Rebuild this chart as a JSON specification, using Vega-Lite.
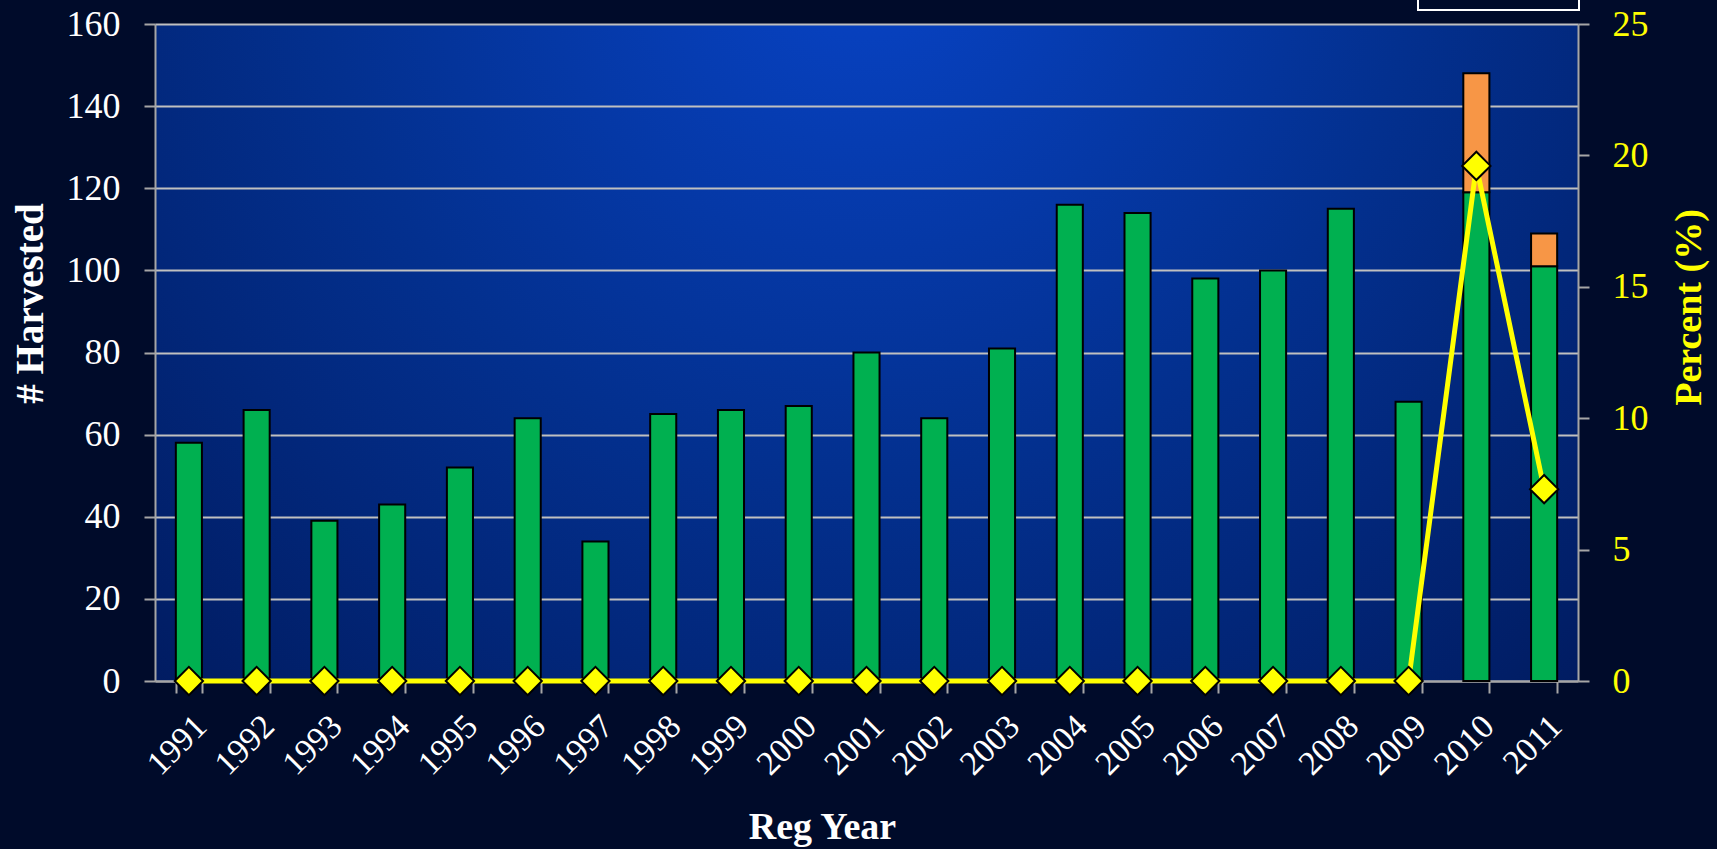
{
  "$schema": "https://vega.github.io/schema/vega-lite/v6.json",
  "width": 1423,
  "height": 657,
  "autosize": {"type": "none"},
  "padding": {"left": 155, "top": 24, "right": 139, "bottom": 168},
  "background": "#000b2a",
  "config": {
    "font": "Liberation Serif",
    "view": {
      "stroke": null,
      "fill": {
        "gradient": "radial",
        "x1": 0.5, "y1": 0.2, "r1": 0,
        "x2": 0.5, "y2": 0.2, "r2": 0.85,
        "stops": [
          {"offset": 0, "color": "#0844c8"},
          {"offset": 0.45, "color": "#03308f"},
          {"offset": 1, "color": "#001552"}
        ]
      }
    },
    "legend": {"strokeWidth": 2, "strokeColor": "#ffffff"}
  },
  "datasets": {
    "bars": [
      {"year": 1991, "type": "Negative", "count": 58},
      {"year": 1992, "type": "Negative", "count": 66},
      {"year": 1993, "type": "Negative", "count": 39},
      {"year": 1994, "type": "Negative", "count": 43},
      {"year": 1995, "type": "Negative", "count": 52},
      {"year": 1996, "type": "Negative", "count": 64},
      {"year": 1997, "type": "Negative", "count": 34},
      {"year": 1998, "type": "Negative", "count": 65},
      {"year": 1999, "type": "Negative", "count": 66},
      {"year": 2000, "type": "Negative", "count": 67},
      {"year": 2001, "type": "Negative", "count": 80},
      {"year": 2002, "type": "Negative", "count": 64},
      {"year": 2003, "type": "Negative", "count": 81},
      {"year": 2004, "type": "Negative", "count": 116},
      {"year": 2005, "type": "Negative", "count": 114},
      {"year": 2006, "type": "Negative", "count": 98},
      {"year": 2007, "type": "Negative", "count": 100},
      {"year": 2008, "type": "Negative", "count": 115},
      {"year": 2009, "type": "Negative", "count": 68},
      {"year": 2010, "type": "Negative", "count": 119},
      {"year": 2010, "type": "Positive", "count": 29},
      {"year": 2011, "type": "Negative", "count": 101},
      {"year": 2011, "type": "Positive", "count": 8}
    ],
    "pct": [
      {"year": 1991, "percent": 0},
      {"year": 1992, "percent": 0},
      {"year": 1993, "percent": 0},
      {"year": 1994, "percent": 0},
      {"year": 1995, "percent": 0},
      {"year": 1996, "percent": 0},
      {"year": 1997, "percent": 0},
      {"year": 1998, "percent": 0},
      {"year": 1999, "percent": 0},
      {"year": 2000, "percent": 0},
      {"year": 2001, "percent": 0},
      {"year": 2002, "percent": 0},
      {"year": 2003, "percent": 0},
      {"year": 2004, "percent": 0},
      {"year": 2005, "percent": 0},
      {"year": 2006, "percent": 0},
      {"year": 2007, "percent": 0},
      {"year": 2008, "percent": 0},
      {"year": 2009, "percent": 0},
      {"year": 2010, "percent": 19.6},
      {"year": 2011, "percent": 7.3}
    ]
  },
  "layer": [
    {
      "data": {"name": "bars"},
      "mark": {"type": "bar", "stroke": "#000000", "strokeWidth": 2},
      "encoding": {
        "x": {
          "field": "year",
          "type": "ordinal",
          "scale": {"paddingInner": 0.615, "paddingOuter": 0.3075},
          "axis": {
            "title": "Reg Year",
            "titleFontSize": 38,
            "titleFontWeight": "bold",
            "titleColor": "#ffffff",
            "titleX": 667,
            "titleY": 157,
            "titleBaseline": "alphabetic",
            "labelAngle": -45,
            "labelFontSize": 34,
            "labelColor": "#ffffff",
            "labelPadding": 16,
            "tickBand": "extent",
            "tickColor": "#a6a6a6",
            "tickWidth": 2,
            "tickSize": 12,
            "domainColor": "#a6a6a6",
            "domainWidth": 2,
            "grid": false
          }
        },
        "y": {
          "field": "count",
          "type": "quantitative",
          "stack": "zero",
          "scale": {"domain": [0, 160]},
          "axis": {
            "title": "# Harvested",
            "titleFontSize": 39,
            "titleFontWeight": "bold",
            "titleColor": "#ffffff",
            "titleAngle": 270,
            "titleX": -113,
            "titleY": 279,
            "titleAlign": "center",
            "titleBaseline": "alphabetic",
            "values": [0, 20, 40, 60, 80, 100, 120, 140, 160],
            "labelFontSize": 36,
            "labelColor": "#ffffff",
            "labelPadding": 24,
            "tickColor": "#a6a6a6",
            "tickWidth": 2,
            "tickSize": 11,
            "domainColor": "#a6a6a6",
            "domainWidth": 2,
            "gridColor": "#c0c0c0",
            "gridWidth": 2
          }
        },
        "color": {
          "field": "type",
          "type": "nominal",
          "scale": {"domain": ["Negative", "Positive"], "range": ["#00b050", "#f79646"]},
          "legend": {
            "orient": "none",
            "legendX": 1263,
            "legendY": -298,
            "title": null,
            "strokeColor": "#ffffff",
            "padding": 20,
            "labelExpr": "''",
            "labelOffset": 0,
            "rowPadding": 0,
            "symbolType": "square",
            "symbolSize": 13689,
            "symbolStrokeColor": "#000000"
          }
        },
        "order": {"field": "type", "sort": "ascending"}
      }
    },
    {
      "data": {"name": "pct"},
      "mark": {
        "type": "line",
        "color": "#ffff00",
        "strokeWidth": 5,
        "point": {
          "shape": "diamond",
          "filled": true,
          "fill": "#ffff00",
          "stroke": "#000000",
          "strokeWidth": 2,
          "size": 800
        }
      },
      "encoding": {
        "x": {"field": "year", "type": "ordinal", "axis": {"title": "Reg Year"}},
        "y": {
          "field": "percent",
          "type": "quantitative",
          "scale": {"domain": [0, 25]},
          "axis": {
            "orient": "right",
            "title": "Percent (%)",
            "titleFontSize": 38,
            "titleFontWeight": "bold",
            "titleColor": "#ffff00",
            "titleAngle": 270,
            "titleX": 122,
            "titleY": 283,
            "titleAlign": "center",
            "titleBaseline": "alphabetic",
            "values": [0, 5, 10, 15, 20, 25],
            "labelFontSize": 36,
            "labelColor": "#ffff00",
            "labelPadding": 23,
            "tickColor": "#a6a6a6",
            "tickWidth": 2,
            "tickSize": 11,
            "domainColor": "#a6a6a6",
            "domainWidth": 2,
            "grid": false
          }
        }
      }
    }
  ],
  "resolve": {"scale": {"y": "independent"}}
}
